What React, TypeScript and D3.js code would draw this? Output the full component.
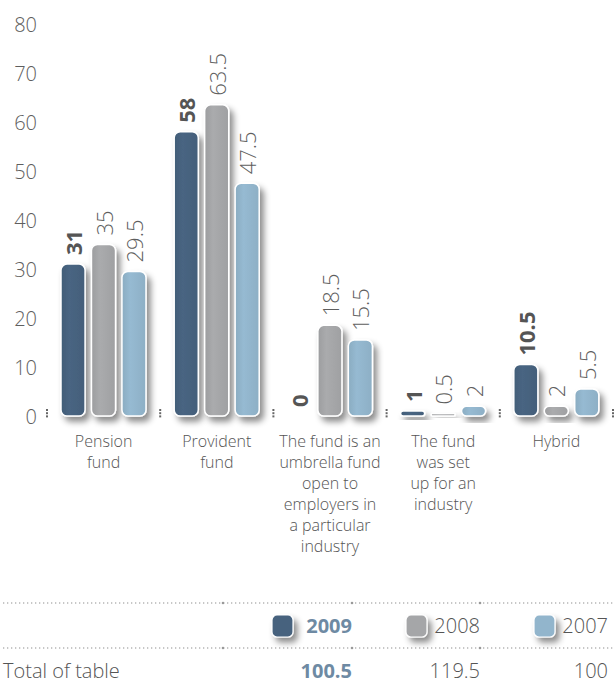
import React from "react";
import * as d3 from "d3";

const categories = [
  ["Pension", "fund"],
  ["Provident", "fund"],
  ["The fund is an", "umbrella fund", "open to", "employers in", "a particular", "industry"],
  ["The fund", "was set", "up for an", "industry"],
  ["Hybrid"],
];
const series = ["2009", "2008", "2007"];
const values2009 = [31, 58, 0, 1, 10.5];
const values2008 = [35, 63.5, 18.5, 0.5, 2];
const values2007 = [29.5, 47.5, 15.5, 2, 5.5];
const totals = ["100.5", "119.5", "100"];
const yTicks = [0, 10, 20, 30, 40, 50, 60, 70, 80];

const colors = ["#46627e", "#a5a6a8", "#92b5cc"];
const FONT = "'Open Sans', 'Noto Sans', sans-serif";
const LIGHT = 300;

export default function App() {
  const W = 614, H = 688;
  const seriesValues = [values2009, values2008, values2007];
  const catKeys = categories.map((c) => c.join(" "));
  const x0 = d3.scaleBand<string>().domain(catKeys).range([47, 613]).padding(0);
  const x1 = d3.scaleBand<string>().domain(series).range([14, 99]).paddingInner(0.21);
  const y = d3.scaleLinear().domain([0, 80]).range([416, 24]);
  const boundaries = d3.range(catKeys.length + 1).map((i) => 47 + i * x0.step());
  const colEnds = series.map((_, i) => 352 + i * 128);

  return (
    <div style={{ position: "absolute", left: 0, top: 0 }}>
      <svg width={W} height={H} style={{ display: "block", background: "#fff" }}>
        <defs>
          <filter id="sh" x="-50%" y="-50%" width="220%" height="220%">
            <feDropShadow dx="4" dy="5" stdDeviation="3.2" floodColor="#000" floodOpacity="0.45" />
          </filter>
          {colors.map((c, i) => (
            <linearGradient key={i} id={`g${i}`} x1="0" x2="1" y1="0" y2="0">
              <stop offset="0" stopColor={d3.color(c)!.darker(0.15).toString()} />
              <stop offset="0.35" stopColor={d3.color(c)!.brighter(0.08).toString()} />
              <stop offset="1" stopColor={d3.color(c)!.darker(0.1).toString()} />
            </linearGradient>
          ))}
        </defs>

        {yTicks.map((t) => (
          <text key={t} x={37} y={y(t)} textAnchor="end" dominantBaseline="central"
            fontFamily={FONT} fontSize={20} fontWeight={LIGHT} fill="#5e5e5e">{t}</text>
        ))}

        {boundaries.map((bx, i) => (
          <g key={i} fill="#666">
            {[0, 1, 2].map((k) => (
              <rect key={k} x={bx - 1} y={409 + k * 3.2} width={2} height={2} />
            ))}
          </g>
        ))}

        {catKeys.map((ck, ci) => (
          <g key={ck} transform={`translate(${x0(ck)},0)`}>
            {series.map((s, si) => {
              const v = seriesValues[si][ci];
              const bx = x1(s)!;
              const bw = x1.bandwidth();
              const top = y(v);
              const h = y(0) - top;
              return (
                <g key={s}>
                  {v > 0 && (
                    <rect x={bx} y={top} width={bw} height={h} rx={Math.min(6, h / 2)}
                      fill={`url(#g${si})`} stroke="#fff" strokeWidth={1.5} filter="url(#sh)" />
                  )}
                  <text transform={`translate(${bx + bw / 2},${top - 9}) rotate(-90)`}
                    dominantBaseline="central" fontFamily={FONT} fontSize={22}
                    fontWeight={si === 0 ? 700 : LIGHT} fill={si === 0 ? "#555" : "#5e5e5e"}>
                    {v}
                  </text>
                </g>
              );
            })}
            {categories[ci].map((line, li) => (
              <text key={li} x={x0.bandwidth() / 2} y={447 + li * 21} textAnchor="middle"
                fontFamily={FONT} fontSize={16} fontWeight={LIGHT} fill="#555">{line}</text>
            ))}
          </g>
        ))}

        {[603, 648].map((ly) => (
          <g key={ly}>
            <line x1={3} x2={614} y1={ly} y2={ly} stroke="#b5b5b5" strokeWidth={1.3} strokeDasharray="1.3,2.7" />
            {[223, 352, 480].map((dx) => (
              <circle key={dx} cx={dx} cy={ly} r={1.3} fill="#999" />
            ))}
          </g>
        ))}
        {series.map((s, i) => {
          const end = colEnds[i];
          const sx = end - (i === 0 ? 80 : 74);
          return (
            <g key={s}>
              <rect x={sx} y={615} width={21} height={22} rx={5} fill={colors[i]}
                stroke="#fff" strokeWidth={1.2} filter="url(#sh)" />
              <text x={end} y={633} textAnchor="end" fontFamily={FONT} fontSize={20}
                fontWeight={i === 0 ? 700 : LIGHT} fill={i === 0 ? "#6e8aa3" : "#555"}>{s}</text>
              <text x={end} y={678} textAnchor="end" fontFamily={FONT} fontSize={20}
                fontWeight={i === 0 ? 700 : LIGHT} fill={i === 0 ? "#6e8aa3" : "#555"}>{totals[i]}</text>
            </g>
          );
        })}
        <text x={3} y={678} fontFamily={FONT} fontSize={20} fontWeight={LIGHT} fill="#555">Total of table</text>
      </svg>
    </div>
  );
}
